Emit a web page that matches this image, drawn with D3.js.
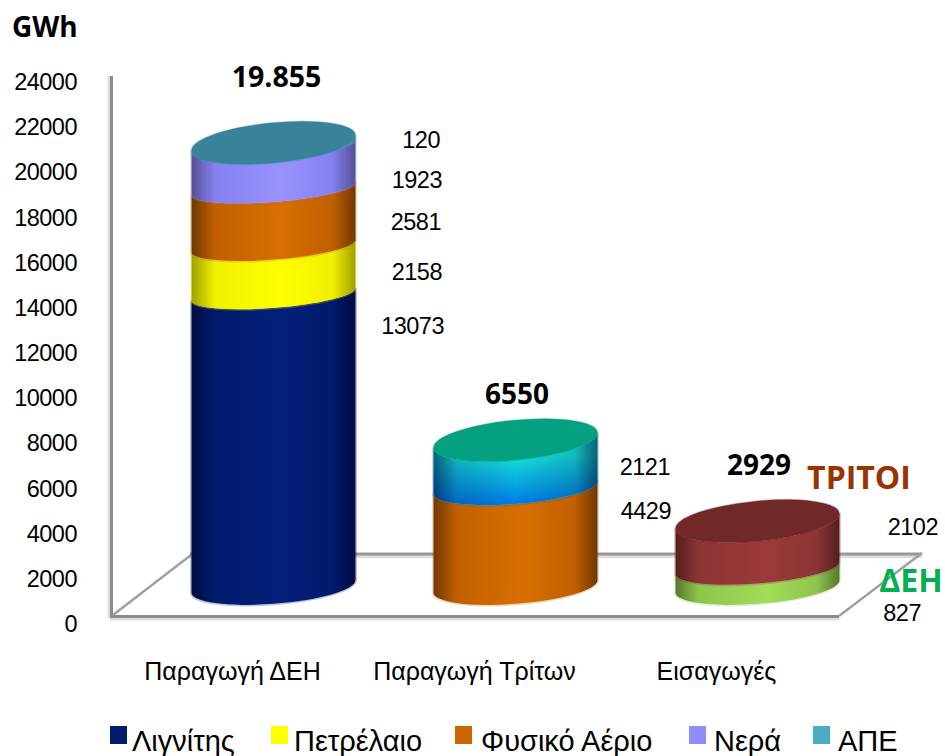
<!DOCTYPE html>
<html>
<head>
<meta charset="utf-8">
<script src="https://cdn.jsdelivr.net/npm/d3@7"></script>
<style>
html, body { margin: 0; padding: 0; background: #fff; }
svg { display: block; }
text { font-family: "Liberation Sans", Arial, sans-serif; fill: #000; }
.bold { font-family: "Open Sans", sans-serif; font-weight: 700; }
</style>
</head>
<body>
<svg id="chart" width="945" height="756"></svg>
<script>
// data
var categories = ["Παραγωγή ΔΕΗ", "Παραγωγή Τρίτων", "Εισαγωγές"];
var yTicks = [0, 2000, 4000, 6000, 8000, 10000, 12000, 14000, 16000, 18000, 20000, 22000, 24000];
var legendNames = ["Λιγνίτης", "Πετρέλαιο", "Φυσικό Αέριο", "Νερά", "ΑΠΕ"];
var dehValues = [13073, 2158, 2581, 1923, 120];
var tritoiValues = [4429, 2121];
var importValues = [827, 2102];
var totalLabels = ["19.855", "6550", "2929"];

// styles
var legendColors = ["#001a6e", "#ffff00", "#cc6600", "#8f8cff", "#4bacc6"];
var stackStyles = [
  ["navy", "yellow", "orange", "purple", "ape"],
  ["orange", "blue"],
  ["green", "red"]
];
var topColors = ["#38829a", "#04a080", "#702828"];
var shades = {
  navy:   { edge: "#000c40", mid: "#001a6c", light: "#041f78" },
  yellow: { edge: "#a0a000", mid: "#f0f000", light: "#ffff00" },
  orange: { edge: "#6e3800", mid: "#c06000", light: "#d96f00" },
  purple: { edge: "#554f96", mid: "#8480ee", light: "#9a93ff" },
  ape:    { edge: "#2f7f99", mid: "#45a5c0", light: "#4bacc6" },
  green:  { edge: "#55782c", mid: "#8fc44c", light: "#a2dc58" },
  red:    { edge: "#561e1e", mid: "#8c3434", light: "#9c3a3a" }
};

var svg = d3.select("#chart");
var defs = svg.append("defs");

// 表示サイズ
var halfWidth = 82;

function makeRim(ry, tilt) {
  var rad = tilt * Math.PI / 180;
  var s = Math.sin(rad), c = Math.cos(rad);
  var rx = Math.sqrt((halfWidth * halfWidth - ry * ry * s * s) / (c * c));
  return { rx: rx, ry: ry, tilt: tilt, off: (rx * rx - ry * ry) * s * c / halfWidth };
}
var bottomRim = makeRim(17.3, 4.5);
var innerRims = [makeRim(13.5, 4.5), makeRim(16.5, 4.5), makeRim(15.5, 4.5)];
var faceRim = makeRim(20, 5.5);

var x = d3.scaleBand()
  .domain(categories)
  .range([152.5, 878.5])
  .paddingInner(0.318)
  .paddingOuter(0.159);

var y = d3.scaleLinear().domain([0, 24000]).range([624, 82]);
// columns stand further back than the axis plane
var yBar = d3.scaleLinear().domain([0, 24000]).range([586.5, 586.5 - 24000 * 0.02235]);

// gradients
Object.keys(shades).forEach(function(k){
  var s = shades[k];
  var g = defs.append("linearGradient").attr("id", "g-" + k);
  [[0, s.edge], [0.14, s.mid], [0.55, s.light], [0.86, s.mid], [1, s.edge]].forEach(function(p){
    g.append("stop").attr("offset", p[0]).attr("stop-color", p[1]);
  });
});
var blueGrad = defs.append("linearGradient").attr("id", "g-blue").attr("x1", 0).attr("x2", 0).attr("y1", 0).attr("y2", 1);
blueGrad.append("stop").attr("offset", 0.3).attr("stop-color", "#16e6dc");
blueGrad.append("stop").attr("offset", 0.95).attr("stop-color", "#0080e6");
var sideShade = defs.append("linearGradient").attr("id", "g-shade");
[[0, 0.62], [0.14, 0.2], [0.5, 0], [0.86, 0.2], [1, 0.62]].forEach(function(p){
  sideShade.append("stop").attr("offset", p[0]).attr("stop-color", "#00103a").attr("stop-opacity", p[1]);
});

// floor and walls
var lineColor = "#8c8c8c", shadowColor = "#dcdcdc";
var floor = svg.append("g").attr("class", "floor").attr("fill", "none");
floor.append("path").attr("d", "M109,76V618").attr("stroke", shadowColor).attr("stroke-width", 3);
floor.append("path").attr("d", "M111.5,76V617").attr("stroke", lineColor).attr("stroke-width", 3);
floor.append("path").attr("d", "M190,556.5H922").attr("stroke", shadowColor).attr("stroke-width", 3);
floor.append("path").attr("d", "M190,554H922").attr("stroke", "#999").attr("stroke-width", 3);
floor.append("path").attr("d", "M110,619H839").attr("stroke", shadowColor).attr("stroke-width", 3);
floor.append("path").attr("d", "M110,616.5H839").attr("stroke", lineColor).attr("stroke-width", 3);
floor.append("path").attr("d", "M113,615L191,555").attr("stroke", "#a0a0a0").attr("stroke-width", 2.5);
floor.append("path").attr("d", "M839,616L922,553").attr("stroke", "#a0a0a0").attr("stroke-width", 2.5);

// axes
var yAxis = d3.axisLeft(y).tickValues(yTicks).tickSize(0).tickPadding(0).tickFormat(d3.format("d"));
svg.append("g")
  .attr("transform", "translate(77,0)")
  .call(yAxis)
  .call(function(g){ g.select(".domain").remove(); })
  .selectAll("text")
  .attr("font-size", 23.5)
  .attr("letter-spacing", -0.5)
  .style("font-family", "'Liberation Sans', Arial, sans-serif")
  .attr("fill", "#000");

var xAxis = d3.axisBottom(x).tickSize(0).tickPadding(0);
svg.append("g")
  .attr("transform", "translate(-41,662)")
  .call(xAxis)
  .call(function(g){ g.select(".domain").remove(); })
  .selectAll("text")
  .attr("font-size", 25)
  .style("font-family", "'Liberation Sans', Arial, sans-serif")
  .attr("fill", "#000");

// cylinders
function sidePath(cx, v0, v1, lowRim, highRim) {
  var y0 = yBar(v0), y1 = yBar(v1);
  return "M" + (cx - halfWidth) + "," + (y0 + lowRim.off) +
    "A" + lowRim.rx + "," + lowRim.ry + " " + (-lowRim.tilt) + " 0 0 " + (cx + halfWidth) + "," + (y0 - lowRim.off) +
    "L" + (cx + halfWidth) + "," + (y1 - highRim.off) +
    "A" + highRim.rx + "," + highRim.ry + " " + (-highRim.tilt) + " 0 1 " + (cx - halfWidth) + "," + (y1 + highRim.off) + "Z";
}

[dehValues, tritoiValues, importValues].forEach(function(values, i){
  var cx = x(categories[i]) + x.bandwidth() / 2;
  var g = svg.append("g").attr("class", "column");
  var sum = 0;
  var layers = values.map(function(v, j){
    var layer = {
      v0: sum,
      v1: sum + v,
      style: stackStyles[i][j],
      low: j == 0 ? bottomRim : innerRims[i],
      high: j == values.length - 1 ? faceRim : innerRims[i]
    };
    sum += v;
    return layer;
  });

  g.selectAll("path.side")
    .data(layers)
    .enter()
    .append("path")
    .attr("class", "side")
    .attr("d", function(d){ return sidePath(cx, d.v0, d.v1, d.low, d.high); })
    .attr("fill", function(d){ return "url(#g-" + d.style + ")"; })
    .attr("stroke", function(d){ return d.style == "blue" ? "#0a70a0" : shades[d.style].mid; })
    .attr("stroke-opacity", 0.25)
    .attr("stroke-width", 3)
    .attr("paint-order", "stroke");

  // the blue band also gets dark sides
  g.selectAll("path.shade")
    .data(layers.filter(function(d){ return d.style == "blue"; }))
    .enter()
    .append("path")
    .attr("class", "shade")
    .attr("d", function(d){ return sidePath(cx, d.v0, d.v1, d.low, d.high); })
    .attr("fill", "url(#g-shade)");

  g.append("ellipse")
    .attr("transform", "translate(" + cx + "," + yBar(sum) + ") rotate(" + (-faceRim.tilt) + ")")
    .attr("rx", faceRim.rx)
    .attr("ry", faceRim.ry)
    .attr("fill", topColors[i])
    .attr("stroke", topColors[i])
    .attr("stroke-opacity", 0.3)
    .attr("stroke-width", 1.5);
});

// value labels, placed by hand beside the columns
function valueLabel(value, px, py) {
  svg.append("text").attr("x", px).attr("y", py).attr("text-anchor", "end")
    .attr("font-size", 23.5).attr("letter-spacing", -0.5).text(value);
}
var dehLabelPos = [[444, 334], [442, 280], [441, 230], [442, 188], [440, 148]];
dehValues.forEach(function(v, i){ valueLabel(v, dehLabelPos[i][0], dehLabelPos[i][1]); });
var tritoiLabelPos = [[671, 519], [670, 475]];
tritoiValues.forEach(function(v, i){ valueLabel(v, tritoiLabelPos[i][0], tritoiLabelPos[i][1]); });
var importLabelPos = [[921, 621], [938, 535]];
importValues.forEach(function(v, i){ valueLabel(v, importLabelPos[i][0], importLabelPos[i][1]); });

// bold texts
function boldText(s, px, py, size, color, anchor) {
  svg.append("text").attr("class", "bold").attr("x", px).attr("y", py)
    .attr("text-anchor", anchor || "middle")
    .attr("font-size", size)
    .style("fill", color || "#000")
    .text(s);
}
boldText("GWh", 12, 37, 28, "#000", "start");
boldText(totalLabels[0], 276.5, 87, 28.5);
boldText(totalLabels[1], 517, 404, 28);
boldText(totalLabels[2], 759, 475, 28);
boldText("ΤΡΙΤΟΙ", 859, 489, 32, "#993300");
boldText("ΔΕΗ", 911, 592, 32, "#00b050");

// legend
var legendX = [110, 271, 455, 689, 813];
var legendTextX = [132, 294, 481, 714, 838];
var legend = svg.append("g").attr("class", "legend");
legend.selectAll("rect")
  .data(legendNames)
  .enter()
  .append("rect")
  .attr("x", function(d, i){ return legendX[i]; })
  .attr("y", 726)
  .attr("width", 17)
  .attr("height", 18)
  .attr("fill", function(d, i){ return legendColors[i]; });
legend.selectAll("text")
  .data(legendNames)
  .enter()
  .append("text")
  .attr("x", function(d, i){ return legendTextX[i]; })
  .attr("y", 751)
  .attr("font-size", 29)
  .text(function(d){ return d; });
</script>
</body>
</html>
